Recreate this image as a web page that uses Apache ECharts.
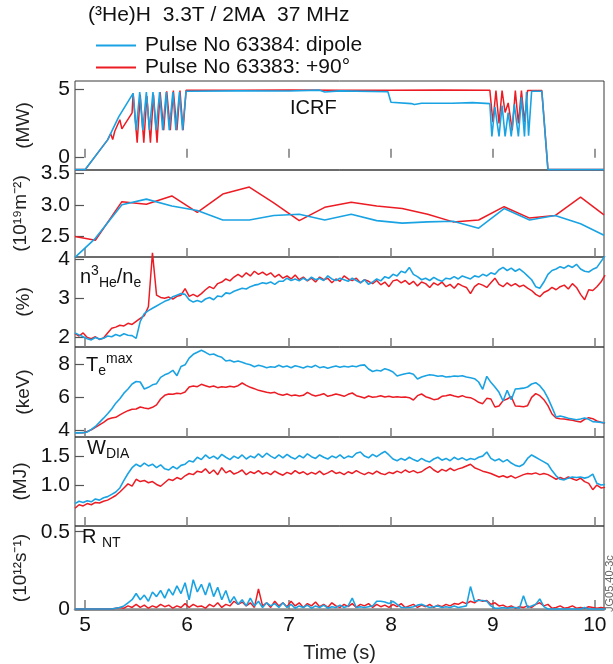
<!DOCTYPE html>
<html><head><meta charset="utf-8">
<script src="https://cdn.jsdelivr.net/npm/echarts@6/dist/echarts.min.js"></script>
<style>html,body{margin:0;padding:0;background:#fff}#c{width:613px;height:664px}</style>
</head><body><div id="c"></div><script>
// ---------- DATA ----------
const xTicks = [5, 6, 7, 8, 9, 10];

// Panel 1: ICRF power (MW), [time, value]
const icrfRed = [[4.90,-0.87],[5.00,-0.87],[5.22,1.3],[5.25,1.75],[5.27,1.33],[5.29,1.93],[5.34,2.77],[5.36,2.1],[5.46,3.27],[5.47,4.7],
  [5.51,1.1],[5.54,4.6],[5.575,1.1],[5.605,4.5],[5.64,1.1],[5.67,4.6],[5.705,1.1],[5.735,4.8],[5.77,2.0],[5.80,4.85],[5.835,2.0],[5.865,4.9],
  [5.90,2.0],[5.93,4.9],[5.96,2.0],[5.99,4.93],[6.5,4.92],[7.0,4.94],[7.5,4.92],[8.0,4.93],[8.5,4.94],[8.97,4.93],[9.0,2.6],[9.03,4.9],
  [9.06,2.5],[9.09,4.9],[9.12,3.3],[9.15,4.0],[9.19,2.0],[9.22,4.9],[9.25,2.5],[9.28,4.9],[9.31,2.6],[9.34,4.9],[9.48,4.9],[9.54,-0.87],[10.09,-0.87]];
const icrfBlue = [[4.90,-0.87],[5.00,-0.87],[5.22,1.3],[5.33,3.0],[5.47,4.7],[5.50,2.0],[5.535,4.8],[5.565,2.0],[5.60,4.8],[5.63,2.0],
  [5.665,4.8],[5.695,2.0],[5.73,4.8],[5.76,2.0],[5.795,4.8],[5.825,2.0],[5.86,4.8],[5.89,2.0],[5.925,4.8],[5.955,2.0],[5.99,4.85],
  [6.5,4.88],[7.0,4.87],[7.3,4.93],[7.35,4.8],[7.5,4.88],[7.97,4.82],[8.00,4.05],[8.2,3.95],[8.23,3.88],[8.3,3.98],[8.6,3.97],[8.8,4.02],
  [8.97,3.95],[8.99,1.55],[9.02,3.7],[9.06,1.55],[9.09,3.8],[9.12,1.55],[9.15,3.3],[9.18,1.55],[9.21,3.9],[9.25,1.55],[9.28,4.4],
  [9.31,1.55],[9.33,4.8],[9.35,1.6],[9.38,4.85],[9.48,4.85],[9.54,-0.87],[10.09,-0.87]];

// Panel 2: line-integrated density (10^19 m^-2), [time, value]
const densRed = [[4.90,2.50],[5.10,2.44],[5.36,3.05],[5.60,3.01],[5.85,3.14],[6.10,2.88],[6.35,3.17],[6.61,3.28],[6.85,3.03],[7.10,2.75],
  [7.35,2.96],[7.61,3.04],[7.86,2.98],[8.11,2.94],[8.36,2.85],[8.61,2.73],[8.86,2.76],[9.11,2.97],[9.36,2.79],[9.61,2.83],[9.86,3.12],[10.09,2.84]];
const densBlue = [[4.90,2.17],[5.10,2.47],[5.36,3.0],[5.60,3.09],[5.85,2.98],[6.10,2.91],[6.35,2.76],[6.61,2.76],[6.85,2.83],[7.10,2.85],
  [7.35,2.76],[7.61,2.85],[7.86,2.75],[8.11,2.71],[8.36,2.73],[8.61,2.74],[8.86,2.63],[9.11,2.94],[9.36,2.76],[9.61,2.83],[9.86,2.70],[10.09,2.52]];

// Panels 3-6 sampled on a common time base (s)
const fastTime = [
  4.90,4.94,4.98,5.02,5.06,5.10,5.14,5.18,5.22,5.26,
  5.30,5.34,5.38,5.42,5.46,5.50,5.54,5.58,5.62,5.66,
  5.70,5.74,5.78,5.82,5.86,5.90,5.94,5.98,6.02,6.06,
  6.10,6.14,6.18,6.22,6.26,6.30,6.34,6.38,6.42,6.46,
  6.50,6.54,6.58,6.62,6.66,6.70,6.74,6.78,6.82,6.86,
  6.90,6.94,6.98,7.02,7.06,7.10,7.14,7.18,7.22,7.26,
  7.30,7.34,7.38,7.42,7.46,7.50,7.54,7.58,7.62,7.66,
  7.70,7.74,7.78,7.82,7.86,7.90,7.94,7.98,8.02,8.06,
  8.10,8.14,8.18,8.22,8.26,8.30,8.34,8.38,8.42,8.46,
  8.50,8.54,8.58,8.62,8.66,8.70,8.74,8.78,8.82,8.86,
  8.90,8.94,8.98,9.02,9.06,9.10,9.14,9.18,9.22,9.26,
  9.30,9.34,9.38,9.42,9.46,9.50,9.54,9.58,9.62,9.66,
  9.70,9.74,9.78,9.82,9.86,9.90,9.94,9.98,10.02,10.06,
  10.10];

// Panel 3: n3He/ne (%)
const heRed = [
  2.08,2.02,2.10,1.98,1.95,2.00,1.93,1.97,2.10,2.22,
  2.25,2.30,2.28,2.35,2.32,2.40,2.48,2.55,2.78,4.18,
  3.08,3.02,3.00,3.03,2.98,3.05,3.08,3.25,3.05,3.10,
  3.04,3.12,3.22,3.30,3.25,3.38,3.42,3.50,3.45,3.55,
  3.62,3.55,3.66,3.58,3.70,3.62,3.68,3.60,3.66,3.55,
  3.62,3.52,3.58,3.50,3.60,3.48,3.55,3.45,3.52,3.42,
  3.55,3.48,3.52,3.40,3.50,3.44,3.58,3.50,3.46,3.52,
  3.40,3.48,3.44,3.38,3.46,3.35,3.42,3.30,3.45,3.48,
  3.40,3.46,3.36,3.44,3.32,3.42,3.38,3.28,3.40,3.34,
  3.42,3.30,3.36,3.26,3.38,3.32,3.28,3.12,3.30,3.38,
  3.34,3.28,3.40,3.52,3.36,3.30,3.40,3.32,3.38,3.30,
  3.34,3.26,3.20,3.10,3.04,3.15,3.20,3.28,3.22,3.30,
  3.34,3.24,3.38,3.28,3.10,2.96,3.22,3.20,3.30,3.42,
  3.60];
const heBlue = [
  2.10,2.05,2.00,1.95,1.92,1.98,1.94,1.96,2.02,2.00,
  2.06,2.02,2.08,2.04,2.03,1.96,2.40,2.60,2.68,2.74,
  2.80,2.86,2.92,2.96,3.04,3.08,3.12,3.10,2.96,2.90,
  2.94,2.90,2.98,3.02,2.96,3.06,3.04,3.14,3.12,3.18,
  3.22,3.26,3.24,3.30,3.34,3.36,3.40,3.38,3.42,3.36,
  3.44,3.44,3.52,3.46,3.50,3.45,3.52,3.46,3.55,3.48,
  3.52,3.46,3.58,3.50,3.46,3.52,3.48,3.44,3.52,3.46,
  3.40,3.48,3.36,3.42,3.50,3.45,3.56,3.52,3.62,3.58,
  3.70,3.66,3.80,3.62,3.56,3.48,3.52,3.46,3.54,3.48,
  3.44,3.52,3.50,3.56,3.50,3.58,3.54,3.50,3.58,3.55,
  3.62,3.58,3.66,3.62,3.74,3.80,3.72,3.78,3.70,3.76,
  3.68,3.58,3.48,3.30,3.26,3.42,3.62,3.72,3.76,3.82,
  3.78,3.85,3.80,3.88,3.76,3.70,3.68,3.75,3.80,3.95,
  4.10];

// Panel 4: Te max (keV)
const teRed = [
  3.87,3.87,3.88,3.95,4.05,4.20,4.35,4.50,4.68,4.76,
  4.80,4.95,5.08,5.20,5.28,5.30,5.42,5.36,5.32,5.40,
  5.55,5.90,6.12,6.20,6.18,6.24,6.22,6.32,6.62,6.68,
  6.64,6.78,6.70,6.62,6.68,6.58,6.64,6.60,6.66,6.62,
  6.70,6.86,6.72,6.60,6.52,6.42,6.36,6.30,6.26,6.30,
  6.18,6.12,6.20,6.10,6.14,6.08,6.12,6.30,6.16,6.08,
  6.14,6.22,6.06,6.12,6.20,6.14,6.06,6.18,6.26,6.10,
  6.04,5.96,6.08,6.00,6.04,6.10,6.02,6.06,6.00,6.04,
  6.00,6.02,5.98,5.84,6.10,6.20,6.04,5.96,5.86,5.90,
  6.06,6.10,6.16,6.08,6.02,6.10,6.00,5.98,5.86,5.70,
  5.62,5.94,5.90,5.42,5.48,5.80,5.90,6.04,5.48,5.46,
  5.44,5.50,6.00,6.22,6.10,5.86,5.50,5.00,4.76,4.72,
  4.70,4.66,4.62,4.56,4.52,4.68,4.78,4.72,4.58,4.50,
  4.44];
const teBlue = [
  3.87,3.87,3.88,3.92,4.08,4.25,4.50,4.75,5.02,5.30,
  5.65,5.92,6.25,6.50,6.80,6.95,6.92,6.50,6.60,6.75,
  6.82,7.20,7.35,7.45,7.62,7.30,7.85,7.95,8.35,8.58,
  8.70,8.82,8.70,8.56,8.60,8.48,8.40,8.18,8.22,8.12,
  8.18,8.10,8.02,7.95,7.84,7.92,7.86,7.78,7.84,7.80,
  7.92,7.82,7.88,7.78,7.90,7.84,7.76,7.86,7.80,7.92,
  7.78,7.84,7.75,7.82,7.88,7.80,7.86,7.82,7.88,7.84,
  7.92,7.95,7.70,7.55,7.62,7.58,7.72,7.64,7.52,7.28,
  7.35,7.42,7.46,7.38,7.10,7.22,7.30,7.36,7.32,7.26,
  7.30,7.22,7.24,7.28,7.26,7.30,7.22,7.18,7.12,6.92,
  6.48,7.26,6.90,6.62,6.30,5.78,6.42,5.86,6.50,6.52,
  6.55,6.62,6.80,6.88,6.70,6.40,5.95,5.40,4.82,4.88,
  4.82,4.74,4.70,4.66,4.70,4.76,4.68,4.54,4.52,4.50,
  4.46];

// Panel 5: W_DIA (MJ)
const wRed = [
  0.60,0.66,0.64,0.68,0.66,0.70,0.69,0.72,0.74,0.78,
  0.82,0.88,0.95,1.02,0.98,1.10,1.06,1.08,1.04,1.06,
  1.01,0.98,1.04,1.10,1.08,1.13,1.10,1.16,1.20,1.18,
  1.24,1.22,1.28,1.20,1.26,1.18,1.30,1.21,1.25,1.19,
  1.22,1.26,1.18,1.23,1.20,1.25,1.19,1.22,1.18,1.24,
  1.20,1.17,1.22,1.19,1.25,1.20,1.23,1.18,1.22,1.19,
  1.24,1.18,1.21,1.25,1.20,1.22,1.18,1.23,1.20,1.25,
  1.21,1.18,1.22,1.19,1.24,1.20,1.18,1.22,1.20,1.24,
  1.21,1.26,1.22,1.25,1.21,1.23,1.28,1.32,1.26,1.22,
  1.27,1.24,1.29,1.25,1.28,1.30,1.33,1.36,1.30,1.27,
  1.24,1.22,1.20,1.17,1.14,1.16,1.13,1.16,1.12,1.15,
  1.18,1.20,1.19,1.21,1.18,1.20,1.18,1.14,1.10,1.13,
  1.10,1.14,1.11,1.08,1.12,1.06,1.03,0.92,1.00,0.95,
  0.96];
const wBlue = [
  0.68,0.72,0.70,0.73,0.71,0.76,0.74,0.78,0.80,0.84,
  0.88,0.95,1.08,1.20,1.30,1.36,1.32,1.38,1.33,1.36,
  1.30,1.35,1.28,1.26,1.32,1.28,1.34,1.36,1.42,1.40,
  1.48,1.44,1.52,1.46,1.50,1.45,1.53,1.48,1.44,1.50,
  1.46,1.52,1.45,1.50,1.47,1.54,1.48,1.55,1.50,1.46,
  1.52,1.47,1.53,1.48,1.45,1.51,1.47,1.54,1.49,1.46,
  1.52,1.48,1.45,1.50,1.47,1.52,1.46,1.50,1.48,1.55,
  1.57,1.50,1.47,1.53,1.49,1.54,1.58,1.52,1.45,1.42,
  1.46,1.43,1.48,1.44,1.41,1.46,1.42,1.40,1.45,1.48,
  1.43,1.46,1.42,1.48,1.44,1.47,1.43,1.46,1.44,1.48,
  1.50,1.57,1.46,1.42,1.45,1.40,1.44,1.38,1.34,1.32,
  1.36,1.46,1.52,1.48,1.44,1.40,1.36,1.25,1.16,1.10,
  1.09,1.12,1.14,1.13,1.14,1.12,1.14,1.19,1.03,1.00,
  1.01];

// Panel 6: neutron rate R_NT (10^12 s^-1)
const rnRed = [
  0,0,0,0,0,0,0,0,0,0,
  0.005,0.01,0.005,0.02,0.01,0.03,0.01,0.025,0.005,0.02,
  0.01,0.03,0.015,0.025,0.005,0.02,0.01,0.035,0.01,0.03,
  0.015,0.02,0.005,0.03,0.015,0.04,0.01,0.03,0.02,0.05,
  0.03,0.045,0.02,0.04,0.01,0.13,0.02,0.04,0.01,0.05,
  0.02,0.04,0.015,0.05,0.02,0.04,0.01,0.035,0.02,0.045,
  0.015,0.03,0.01,0.04,0.02,0.01,0.03,0.015,0.035,0.01,
  0.03,0.02,0.035,0.01,0.03,0.015,0.025,0.01,0.03,0.015,
  0.035,0.01,0.02,0.03,0.01,0.025,0.015,0.03,0.01,0.025,
  0.015,0.03,0.02,0.035,0.03,0.045,0.035,0.05,0.04,0.06,
  0.05,0.055,0.03,0.04,0.02,0.025,0.01,0.02,0.005,0.015,
  0.01,0.02,0.01,0.03,0.04,0.02,0.03,0.005,0.01,0.02,
  0.005,0.01,0.02,0.005,0.01,0.005,0.015,0.01,0.005,0.01,
  0.005];
const rnBlue = [
  0,0,0,0,0,0,0,0,0,0,
  0.005,0.01,0.02,0.04,0.06,0.10,0.06,0.09,0.05,0.11,
  0.08,0.12,0.07,0.13,0.09,0.15,0.10,0.17,0.06,0.19,
  0.11,0.16,0.09,0.17,0.08,0.14,0.06,0.12,0.04,0.08,
  0.03,0.06,0.02,0.07,0.02,0.05,0.01,0.04,0.02,0.035,
  0.01,0.04,0.01,0.03,0.005,0.02,0.01,0.025,0.005,0.02,
  0.01,0.025,0.005,0.015,0.01,0.025,0.01,0.02,0.07,0.01,
  0.015,0.01,0.015,0.02,0.05,0.05,0.045,0.035,0.05,0.03,
  0.01,0.01,0.01,0.015,0.025,0.03,0.02,0.01,0.015,0.02,
  0.01,0.015,0.01,0.02,0.01,0.015,0.02,0.145,0.05,0.055,
  0.055,0.05,0.02,0.005,0.005,0.01,0.005,0.01,0.01,0.005,
  0.085,0.01,0.02,0.03,0.065,0.015,0,0,0,0,
  0,0,0,0,0,0.01,0,0,0,0,
  0];

// ---------- LAYOUT / STYLE ----------
const BLUE = '#1aa3e3', RED = '#ec1c24';
const NB = 'Pulse No 63384: dipole', NR = 'Pulse No 63383: +90\u00b0';
const FONT = '"Liberation Sans", Arial, Helvetica, sans-serif';
const panelBoxes = [[81,89],[170,87],[257,90],[347,90],[437,89],[526,84]];
const yAxisSpecs = [
  {min:-0.9,   max:5.6,   ticks:[0,5],         dec:0, name:'(MW)'},
  {min:2.175,  max:3.55,  ticks:[2.5,3.0,3.5], dec:1, name:'(10\u00b9\u2079m\u207b\u00b2)'},
  {min:1.735,  max:4.07,  ticks:[2,3,4],       dec:0, name:'(%)'},
  {min:3.62,   max:9.02,  ticks:[4,6,8],       dec:0, name:'(keV)'},
  {min:0.293,  max:1.83,  ticks:[1.0,1.5],     dec:1, name:'(MJ)'},
  {min:-0.0065,max:0.537, ticks:[0,0.5],       dec:-1, name:'(10\u00b9\u00b2s\u207b\u00b9)'}
];
const pairs = (t, v) => t.map((x, i) => [x, v[i]]);
const panelData = [
  [icrfRed, icrfBlue],
  [densRed, densBlue],
  [pairs(fastTime, heRed), pairs(fastTime, heBlue)],
  [pairs(fastTime, teRed), pairs(fastTime, teBlue)],
  [pairs(fastTime, wRed), pairs(fastTime, wBlue)],
  [pairs(fastTime, rnRed), pairs(fastTime, rnBlue)]
];

const grid = [], xAxis = [], yAxis = [], series = [];
panelBoxes.forEach((b, i) => {
  grid.push({left: 75, right: 9, top: b[0], height: b[1], show: true, borderColor: '#3a3a3a', borderWidth: 1, backgroundColor: 'transparent'});
  const last = i === panelBoxes.length - 1;
  xAxis.push({
    type: 'value', gridIndex: i, min: 4.9, max: 10.09,
    axisLine: {show: last, onZero: true, lineStyle: {color: '#8a8a8a', width: 2.5}},
    axisTick: {show: true, inside: true, length: 9, customValues: xTicks, lineStyle: {color: '#7a7a7a', width: 1.5}},
    axisLabel: {show: last, customValues: xTicks, fontSize: 21, color: '#111', fontFamily: FONT, margin: 5},
    splitLine: {show: false},
    name: last ? 'Time (s)' : '', nameLocation: 'middle', nameGap: 33,
    nameTextStyle: {fontSize: 20, color: '#222', fontFamily: FONT}
  });
  const s = yAxisSpecs[i];
  yAxis.push({
    type: 'value', gridIndex: i, min: s.min, max: s.max,
    axisLine: {show: false},
    axisTick: {show: true, inside: true, length: 9, customValues: s.ticks, lineStyle: {color: '#555', width: 1.2}},
    axisLabel: {customValues: s.ticks, fontSize: 21, color: '#111', fontFamily: FONT, margin: 5,
      formatter: v => s.dec === 1 ? v.toFixed(1) : (s.dec === 0 ? v.toFixed(0) : String(v))},
    splitLine: {show: false},
    name: s.name, nameLocation: 'middle', nameRotate: 90, nameGap: 42,
    nameTextStyle: {fontSize: 19, color: '#222', fontFamily: FONT}
  });
  const [r, bl] = panelData[i];
  series.push({type: 'line', name: NR, xAxisIndex: i, yAxisIndex: i, data: r, showSymbol: false,
    lineStyle: {color: RED, width: 1.5}, itemStyle: {color: RED}, clip: i !== 2, z: 2});
  series.push({type: 'line', name: NB, xAxisIndex: i, yAxisIndex: i, data: bl, showSymbol: false,
    lineStyle: {color: BLUE, width: 1.6}, itemStyle: {color: BLUE}, z: 3});
});

const T = (left, top, text, rich, extra) => Object.assign({type: 'text', left, top, z: 10,
  style: Object.assign({text, fill: '#111', font: '20px ' + FONT, rich}, extra || {})});
const subSup = {
  a: {fontSize: 20, lineHeight: 26, verticalAlign: 'middle', fontFamily: FONT, fill: '#111'},
  p: {fontSize: 14, lineHeight: 14, verticalAlign: 'top', fontFamily: FONT, fill: '#111'},
  b: {fontSize: 14, lineHeight: 14, verticalAlign: 'bottom', fontFamily: FONT, fill: '#111'}
};

const option = {
  animation: false,
  backgroundColor: '#fff',
  textStyle: {fontFamily: FONT},
  grid, xAxis, yAxis, series,
  legend: {
    orient: 'vertical', left: 91, top: 30, itemWidth: 40, itemHeight: 2, itemGap: 1, icon: 'rect',
    data: [NB, NR], textStyle: {fontSize: 21, color: '#111', fontFamily: FONT, padding: [0, 0, 0, 4]}
  },
  graphic: [
    T(88, 5, '(\u00b3He)H  3.3T / 2MA  37 MHz', null, {font: '21px ' + FONT}),
    T(290, 98, 'ICRF', null, {font: '20px ' + FONT}),
    T(80, 264, '{a|n}{p|3}{b|He}{a|/n}{b|e}', subSup),
    T(86, 352, '{a|T}{b|e}{p|max}', subSup),
    T(87, 438, '{a|W}{b|DIA}', subSup),
    T(82, 527, '{a|R }{b|NT}', subSup),
    {type: 'text', x: 610, y: 612, rotation: Math.PI / 2, z: 10,
      style: {text: 'JG05.40-3c', fill: '#666', font: '11px ' + FONT, align: 'left', verticalAlign: 'middle'}}
  ]
};
const chart = echarts.init(document.getElementById('c'), null, {renderer: 'canvas'});
chart.setOption(option);
</script></body></html>
